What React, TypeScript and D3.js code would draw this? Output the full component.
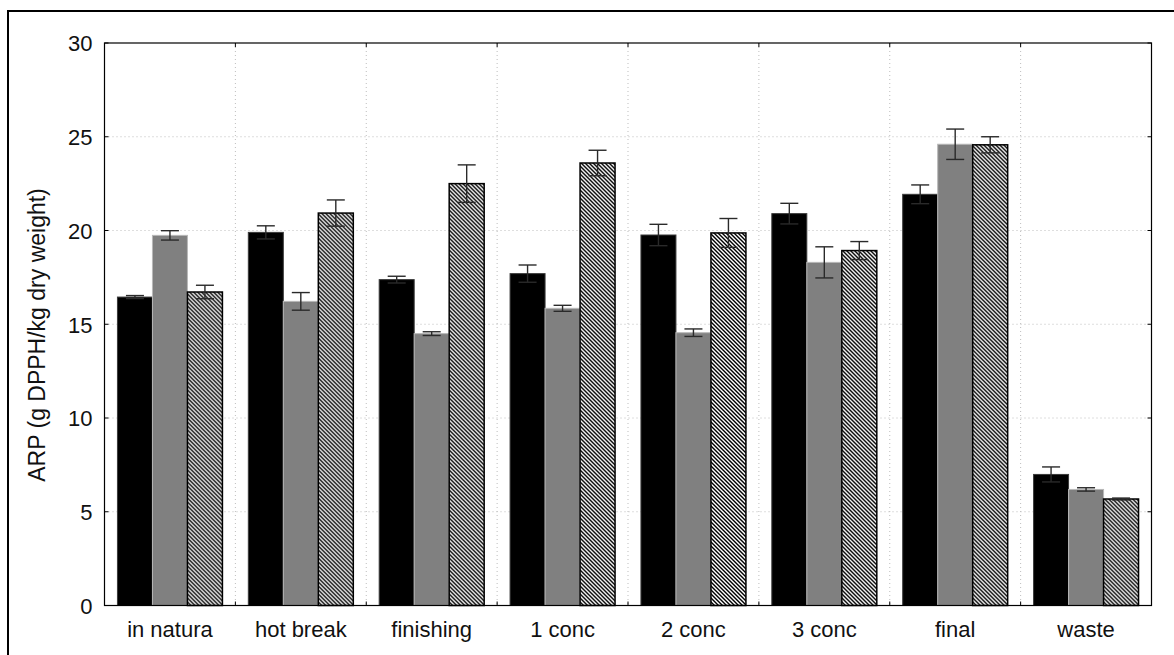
import React from 'react';
import * as d3 from 'd3';

const categories = ['in natura', 'hot break', 'finishing', '1 conc', '2 conc', '3 conc', 'final', 'waste'];
const seriesKeys = ['a', 'b', 'c'];

const valuesA = [16.45, 19.9, 17.38, 17.7, 19.76, 20.9, 21.93, 6.99];
const errorsA = [0.08, 0.35, 0.18, 0.46, 0.57, 0.55, 0.5, 0.4];
const valuesB = [19.74, 16.22, 14.5, 15.85, 14.55, 18.3, 24.6, 6.19];
const errorsB = [0.25, 0.47, 0.1, 0.16, 0.2, 0.83, 0.81, 0.09];
const valuesC = [16.72, 20.93, 22.5, 23.6, 19.87, 18.93, 24.57, 5.68];
const errorsC = [0.36, 0.7, 1.0, 0.68, 0.77, 0.48, 0.43, 0.05];

const yTicks = [0, 5, 10, 15, 20, 25, 30];

const W = 1174;
const H = 655;
const m = { left: 104.5, top: 43, right: 1151.5, bottom: 605.5 };

const App = () => {
  const x = d3.scaleBand().domain(categories).range([m.left, m.right]).paddingInner(0).paddingOuter(0);
  const xs = d3.scaleBand().domain(seriesKeys).range([0, x.bandwidth()]).paddingOuter(0.37).paddingInner(0);
  const y = d3.scaleLinear().domain([0, 30]).range([m.bottom, m.top]);

  const vals = [valuesA, valuesB, valuesC];
  const errs = [errorsA, errorsB, errorsC];
  const fills = ['#000000', '#808080', 'url(#hatch)'];
  const strokes = ['#3a3a3a', '#b8b8b8', '#000000'];

  const bounds = categories.slice(1).map((c) => x(c) as number);

  return (
    <div style={{ position: 'absolute', left: 0, top: 0 }}>
      <svg width={W} height={H} style={{ display: 'block', fontFamily: 'Liberation Sans, Arial, sans-serif' }}>
        <defs>
          <pattern id="hatch" patternUnits="userSpaceOnUse" width={4} height={4}>
            <rect width={4} height={4} fill="#fff" />
            <path d="M0,0 L2,0 L4,2 L4,4 Z M0,2 L2,4 L0,4 Z" fill="#000" />
          </pattern>
        </defs>
        <rect x={0} y={0} width={W} height={H} fill="#fff" />
        <rect x={8} y={11} width={W + 20} height={H + 20} fill="none" stroke="#000" strokeWidth={2} />

        {/* grid */}
        {yTicks.slice(1, -1).map((t) => (
          <line key={`gy${t}`} x1={m.left} x2={m.right} y1={y(t)} y2={y(t)} stroke="#bdbdbd" strokeDasharray="1,3" />
        ))}
        {bounds.map((b, i) => (
          <line key={`gx${i}`} x1={b} x2={b} y1={m.top} y2={m.bottom} stroke="#bdbdbd" strokeDasharray="1,3" />
        ))}

        {/* bars */}
        {categories.map((c, ci) => (
          <g key={c} transform={`translate(${x(c)},0)`}>
            {seriesKeys.map((k, si) => {
              const v = vals[si][ci];
              const bx = xs(k) as number;
              return (
                <rect
                  key={k}
                  x={bx}
                  y={y(v)}
                  width={xs.bandwidth()}
                  height={y(0) - y(v)}
                  fill={fills[si]}
                  stroke={strokes[si]}
                  strokeWidth={si === 2 ? 1.5 : 1}
                />
              );
            })}
            {seriesKeys.map((k, si) => {
              const v = vals[si][ci];
              const e = errs[si][ci];
              const cx = (xs(k) as number) + xs.bandwidth() / 2;
              return (
                <g key={`e${k}`} stroke="#2a2a2a" strokeWidth={1.4}>
                  <line x1={cx} x2={cx} y1={y(v + e)} y2={y(v - e)} />
                  <line x1={cx - 9} x2={cx + 9} y1={y(v + e)} y2={y(v + e)} />
                  <line x1={cx - 9} x2={cx + 9} y1={y(v - e)} y2={y(v - e)} />
                </g>
              );
            })}
          </g>
        ))}

        {/* frame */}
        <rect x={m.left} y={m.top} width={m.right - m.left} height={m.bottom - m.top} fill="none" stroke="#000" strokeWidth={1.2} />

        {/* ticks */}
        {yTicks.map((t) => (
          <g key={`ty${t}`} stroke="#000">
            <line x1={m.left} x2={m.left + 4} y1={y(t)} y2={y(t)} />
            <line x1={m.right - 4} x2={m.right} y1={y(t)} y2={y(t)} />
          </g>
        ))}
        {bounds.map((b, i) => (
          <g key={`tx${i}`} stroke="#000">
            <line x1={b} x2={b} y1={m.bottom} y2={m.bottom - 4} />
            <line x1={b} x2={b} y1={m.top} y2={m.top + 4} />
          </g>
        ))}

        {/* tick labels */}
        {yTicks.map((t) => (
          <text key={`ly${t}`} x={92.5} y={y(t)} dy="0.38em" textAnchor="end" fontSize={22} fill="#111">
            {t}
          </text>
        ))}
        {categories.map((c) => (
          <text
            key={`lx${c}`}
            x={(x(c) as number) + x.bandwidth() / 2}
            y={637}
            textAnchor="middle"
            fontSize={22}
            fill="#111"
          >
            {c}
          </text>
        ))}

        <text
          transform={`translate(45,335) rotate(-90)`}
          textAnchor="middle"
          fontSize={23}
          fill="#111"
        >
          ARP (g DPPH/kg dry weight)
        </text>
      </svg>
    </div>
  );
};

export default App;
